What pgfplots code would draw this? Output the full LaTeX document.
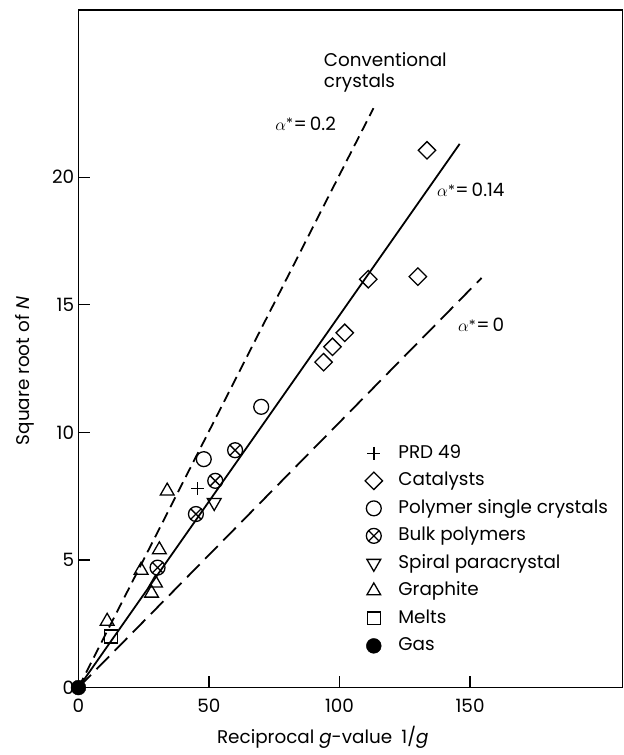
\documentclass[border=0pt]{standalone}
\usepackage{amsmath}
\usepackage{pgfplots}
\pgfplotsset{compat=1.18}
\usepackage{fontspec}
\setmainfont{Poppins}
\usetikzlibrary{calc}
\newcommand{\chartfont}{\fontsize{18.5}{21}\selectfont}
\newcommand{\astar}{$\alpha^{\boldsymbol{*}}$}

\begin{document}
\chartfont
\begin{tikzpicture}
\begin{axis}[
    scale only axis,
    width=548pt, height=682.5pt,
    xmin=0, xmax=208.4, ymin=0, ymax=26.55,
    xtick={0,50,100,150}, ytick={0,5,10,15,20},
    tick pos=left, tick align=inside,
    major tick length=12pt,
    every tick/.style={black, line width=1.2pt},
    axis line style={line width=1.4pt},
    /pgf/number format/assume math mode=true,
    every tick label/.append style={font=\chartfont},
    xticklabel style={yshift=-5pt},
    yticklabel style={xshift=2pt},
    xlabel={Reciprocal \textit{g}-value\enspace 1/\textit{g}},
    ylabel={Square root of \textit{N}},
    label style={font=\chartfont},
    x label style={at={(axis description cs:0.449,-0.074)}, anchor=center},
    y label style={at={(axis description cs:-0.099,0.467)}, anchor=center},
    clip=false,
    legend style={draw=none, fill=none, font=\chartfont,
        at={(rel axis cs:0.521,0.365)}, anchor=north west,
        row sep=5.7pt,
        nodes={inner sep=2pt, text height=14pt, text depth=4pt},
        /tikz/every odd column/.append style={column sep=14pt}},
    legend cell align=left,
    mk/.style={only marks, black},
]
% reference lines
\addplot[black, line width=1.8pt, dash pattern=on 11pt off 6pt, forget plot]
    coordinates {(0,0) (113,22.7)};
\addplot[black, line width=1.8pt, forget plot]
    coordinates {(0,0) (146,21.3)};
\addplot[black, line width=1.8pt, dash pattern=on 18pt off 8pt, forget plot]
    coordinates {(0,0) (154.4,16.05)};

% data
\addplot[mk, mark=+, mark size=6.5pt, mark options={solid, line width=1.4pt}]
    coordinates {(45.7,7.8)};
\addlegendentry{PRD 49}
\addplot[mk, mark=square, mark size=6.2pt,
    mark options={solid, line width=1.3pt, fill=white, rotate=45}] coordinates {
    (133.5,21.05) (111,16.0) (130,16.1) (102,13.9) (97.3,13.35) (93.9,12.75)};
\addlegendentry{Catalysts}
\addplot[mk, mark=o, mark size=7.5pt, mark options={solid, line width=1.3pt, fill=white}]
    coordinates {(70,11.0) (48,8.95)};
\addlegendentry{Polymer single crystals}
\addplot[mk, mark=otimes, mark size=7.5pt, mark options={solid, line width=1.3pt, fill=white}]
    coordinates {(60,9.3) (52.4,8.1) (45,6.8) (30.3,4.7)};
\addlegendentry{Bulk polymers}
\addplot[mk, mark=triangle, mark size=8pt,
    mark options={solid, line width=1.3pt, fill=white, rotate=180}] coordinates {(52,7.25)};
\addlegendentry{Spiral paracrystal}
\addplot[mk, mark=triangle, mark size=8pt, mark options={solid, line width=1.3pt, fill=white}]
    coordinates {(34,7.7) (11,2.6) (24,4.6) (31,5.4) (29.5,4.1) (28,3.7)};
\addlegendentry{Graphite}
\addplot[mk, mark=square, mark size=6.5pt, mark options={solid, line width=1.3pt, fill=white}]
    coordinates {(12.5,2.0)};
\addlegendentry{Melts}
\addplot[mk, mark=*, mark size=7.5pt] coordinates {(0,0)};
\addlegendentry{Gas}

\node[anchor=east] at (axis cs:101,22.1) {\astar=\,0.2};
\node[anchor=west] at (axis cs:135,19.5) {\astar=\,0.14};
\node[anchor=west] at (axis cs:143,14.2) {\astar=\,0};
\node[anchor=west, align=left] at (axis cs:91.6,24.1) {Conventional\\crystals};
\end{axis}
\path ($(current axis.south west)+(-79pt,-63pt)$) rectangle ($(current axis.north east)+(0.5pt,10pt)$);
\end{tikzpicture}
\end{document}
